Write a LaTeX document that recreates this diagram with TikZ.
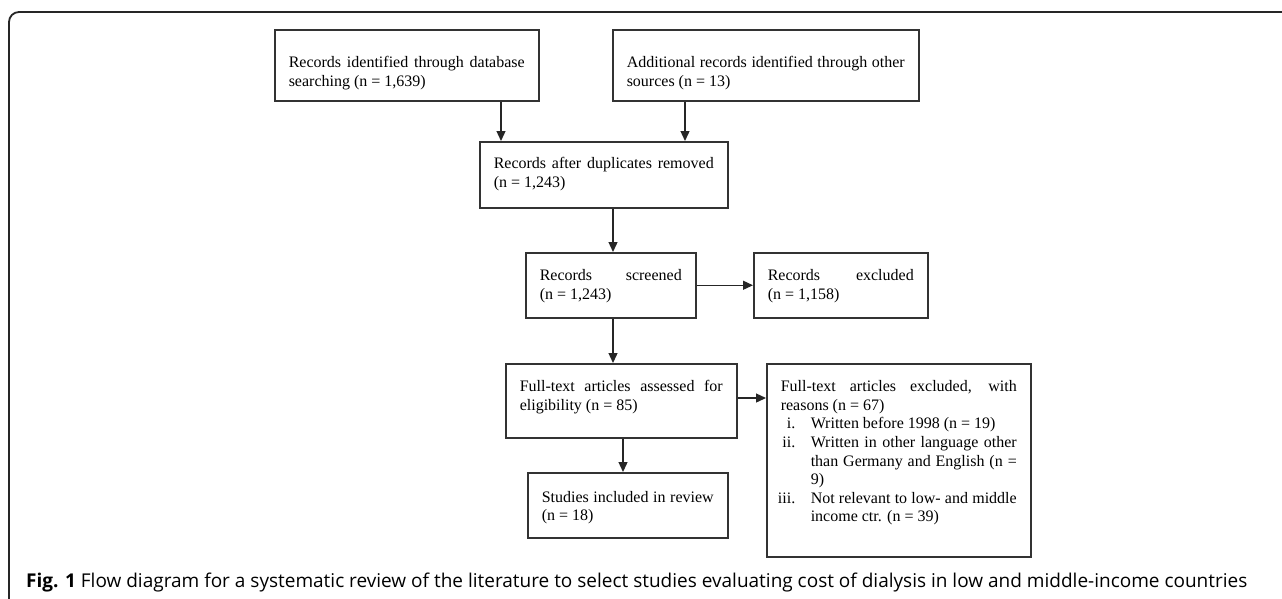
\documentclass[tikz,border=0pt]{standalone}
\usepackage{fontspec}
\setmainfont{Liberation Serif}
\newfontfamily\capfont{Open Sans}
\usetikzlibrary{arrows.meta}
\newcommand\bx[4]{% #1 width, #2 height, #3 first baseline, #4 text
  \parbox[c][#2pt][t]{\dimexpr#1pt-28pt\relax}{\fontsize{16}{18.6}\selectfont
    \hyphenpenalty=10000 \exhyphenpenalty=10000 \rule{0pt}{#3pt}#4}}
\newcommand\itm[1]{\hangindent=30pt\hangafter=1 \makebox[30pt][l]{\makebox[14.5pt][r]{#1}}}
\begin{document}
\begin{tikzpicture}[x=1pt,y=-1pt,
  box/.style={draw=black!80, line width=1.5pt, inner xsep=14pt, inner ysep=0pt, anchor=north west},
  arr/.style={draw=black!85, line width=1.3pt, -{Triangle[length=10pt,width=9pt]}},
  frame/.style={draw=black!85, line width=1.8pt, rounded corners=10pt}]
\useasboundingbox (0,0) rectangle (1282,598);
\draw[frame] (1292,12) -- (9,12) -- (9,608);

\node[box] (b1) at (274,29) {\bx{264}{71}{38}{Records identified through database\linebreak searching (n = 1,639)}};
\node[box] (b2) at (612,29) {\bx{306}{71}{38}{Additional records identified through other\linebreak sources (n = 13)}};
\node[box] (b3) at (479,141) {\bx{248}{66}{27}{Records after duplicates removed\linebreak (n = 1,243)}};
\node[box] (b4) at (525,252) {\bx{170}{65}{28}{Records screened\linebreak (n = 1,243)}};
\node[box] (b5) at (753,252) {\bx{174}{65}{28}{Records excluded\linebreak (n = 1,158)}};
\node[box] (b6) at (505,363) {\bx{231}{74}{28}{Full-text articles assessed for\linebreak eligibility (n = 85)}};
\node[box] (b7) at (766,363) {\bx{264}{193}{28}{Full-text articles excluded, with\linebreak reasons (n = 67)\par
  \itm{i.}Written before 1998 (n = 19)\par
  \itm{ii.}Written in other language other\linebreak than Germany and English (n =\linebreak 9)\par
  \itm{iii.}Not relevant to low- and middle\linebreak income ctr. (n = 39)\par}};
\node[box] (b8) at (527,472) {\bx{200}{65}{29.5}{Studies included in review\linebreak (n = 18)}};

\coordinate (a1) at (501,0);
\coordinate (a2) at (685,0);
\coordinate (a3) at (613,0);
\coordinate (a4) at (623,0);
\coordinate (h1) at (0,398);

\draw[arr] (b1.south -| a1) -- (b3.north -| a1);
\draw[arr] (b2.south -| a2) -- (b3.north -| a2);
\draw[arr] (b3.south -| a3) -- (b4.north -| a3);
\draw[arr] (b4.east) -- (b5.west);
\draw[arr] (b4.south -| a3) -- (b6.north -| a3);
\draw[arr] (b6.east |- h1) -- (b7.west |- h1);
\draw[arr] (b6.south -| a4) -- (b8.north -| a4);

\node[anchor=base west, inner sep=0pt, font=\capfont\fontsize{19}{21}\selectfont] (cap) at (26,587)
  {\textbf{Fig. 1} Flow diagram for a systematic review of the literature to select studies evaluating cost of dialysis in low and middle-income countries};
\end{tikzpicture}
\end{document}
